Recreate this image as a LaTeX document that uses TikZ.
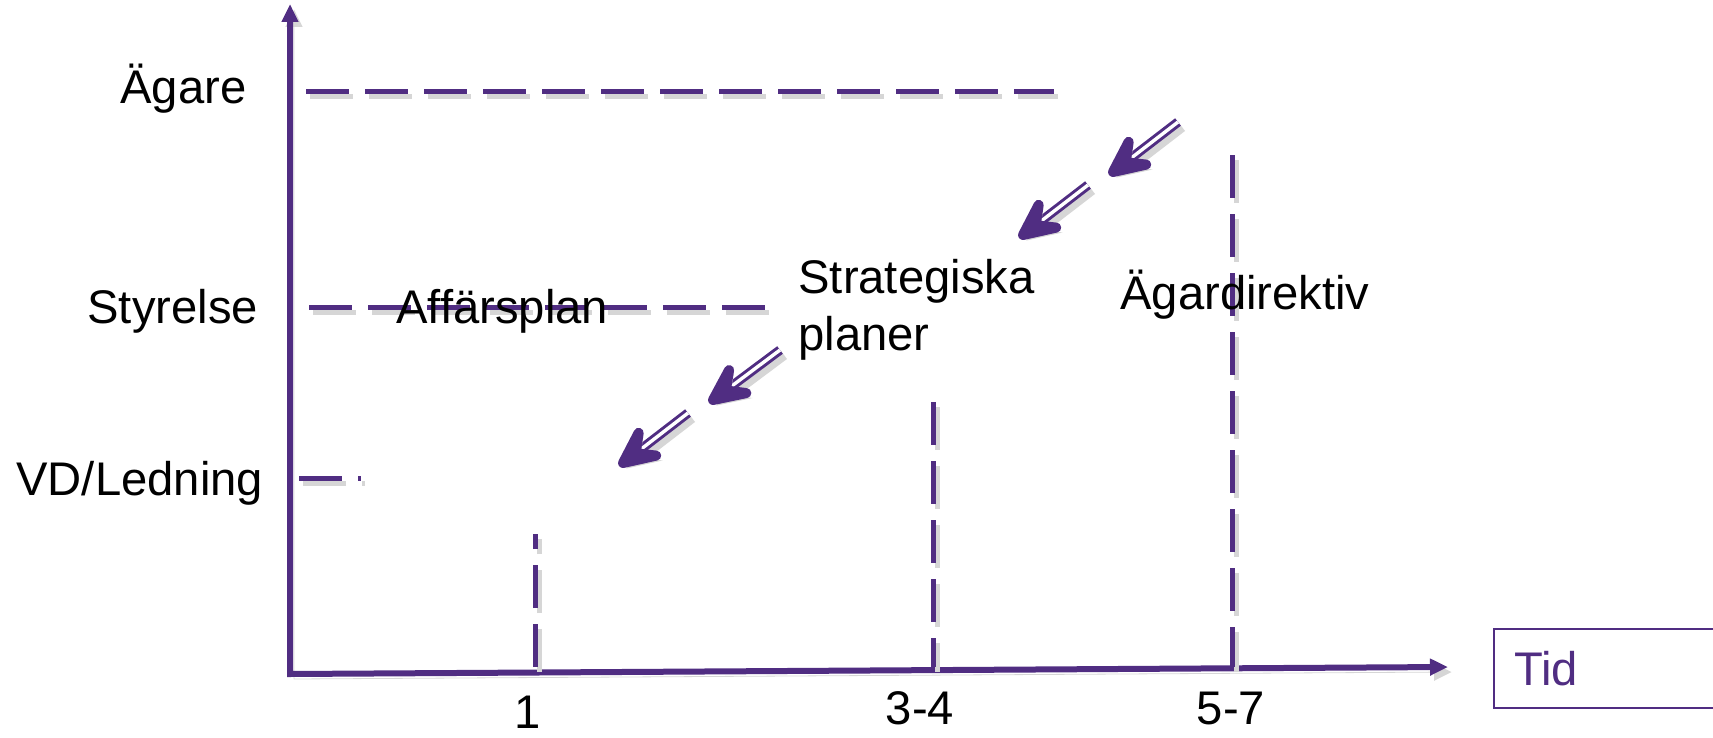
\documentclass[tikz,border=0pt]{standalone}
\usepackage{fontspec}
\setmainfont{Liberation Sans}
\usetikzlibrary{arrows.meta,calc}
\definecolor{vio}{RGB}{80,45,130}
\tikzset{
  shad/.style={preaction={draw=black!16, transform canvas={shift={(2pt,-2.5pt)}}}},
  shadd/.style={preaction={draw=black!16, line width=2.5pt, dash pattern=on 21.5pt off 8pt,
      transform canvas={shift={(2pt,-2.5pt)}}}},
  shadf/.style={preaction={draw=black!16, fill=black!16, transform canvas={shift={(2pt,-2.5pt)}}}}
}
\newcommand\dblarrow[2]{%
  \draw[black!16, line width=5pt, transform canvas={shift={(2pt,-2.5pt)}}] (#1) -- ($(#2)!10pt!(#1)$);
  \draw[vio, line width=1.5pt, double=white, double distance=1.7pt] (#1) -- ($(#2)!10pt!(#1)$);
  \filldraw[shadf, vio, line width=5pt, line join=round] (#2) -- ($(#2)!17pt!25:(#1)$) -- ($(#2)!8pt!(#1)$) -- ($(#2)!17pt!-25:(#1)$) -- cycle;
}
\begin{document}
\begin{tikzpicture}[x=0.5pt,y=-0.5pt,
  lbl/.style={inner sep=0pt, anchor=base west, font=\fontsize{23.6}{28}\selectfont},
  guide/.style={shadd, draw=vio, line width=2.5pt, dash pattern=on 21.5pt off 8pt},
  axis/.style={shad, draw=vio, line width=3pt, line join=miter,
    arrows={Triangle[length=9pt,width=8pt]-Triangle[length=9pt,width=8pt]}}]
\useasboundingbox (0,0) rectangle (1713,738);
% axes
\coordinate (O) at (290,674);
\coordinate (ytip) at (290,4);
\coordinate (xtip) at (1448,667);
\draw[axis] (ytip) -- (O) -- (xtip);
% labels
\node[lbl] (ag) at (120,104) {Ägare};
\node[lbl] (sty) at (87,323) {Styrelse};
\node[lbl] (vd) at (16,495) {VD/Ledning};
% guide lines
\coordinate (agA) at (306,92);  \coordinate (agB) at (1054,92);
\coordinate (stA) at (309,307); \coordinate (stB) at (776,307);
\coordinate (vdA) at (299,478); \coordinate (vdB) at (361,478);
\draw[guide] (agA) -- (agB);
\draw[guide] (stA) -- (stB);
\draw[guide] (vdA) -- (vdB);
\coordinate (v1b) at (535,667); \coordinate (v1t) at (535,534);
\coordinate (v2t) at (933,402); \coordinate (v2b) at (933,667);
\coordinate (v3t) at (1232,155); \coordinate (v3b) at (1232,667);
\draw[guide] (v1b) -- (v1t);
\draw[guide] (v2t) -- (v2b);
\draw[guide] (v3t) -- (v3b);
% text in plot
\node[lbl] (aff) at (396,323) {Affärsplan};
\node[lbl] (strat) at (798,293) {Strategiska};
\node[lbl] (stratb) at (798,350) {planer};
\node[lbl] (agdir) at (1120,309) {Ägardirektiv};
% tick labels
\node[lbl, anchor=base] (t1) at (528,728) {1};
\node[lbl, anchor=base] (t34) at (920,724) {3-4};
\node[lbl, anchor=base] (t57) at (1231,724) {5-7};
% Tid box
\node[draw=vio, line width=1pt, anchor=north west, text width=90pt, inner xsep=10pt,
  inner ysep=0pt, minimum height=39.5pt, align=left, text=vio,
  font=\fontsize{23.6}{28}\selectfont] (tid) at (1493,628) {Tid};
% arrows
\coordinate (a1t) at (1178,122); \coordinate (a1h) at (1113,172);
\coordinate (a2t) at (1088,185); \coordinate (a2h) at (1023,235);
\coordinate (a3t) at (780,350);  \coordinate (a3h) at (713,400);
\coordinate (a4t) at (688,413);  \coordinate (a4h) at (623,463);
\dblarrow{a1t}{a1h}
\dblarrow{a2t}{a2h}
\dblarrow{a3t}{a3h}
\dblarrow{a4t}{a4h}
\end{tikzpicture}
\end{document}
